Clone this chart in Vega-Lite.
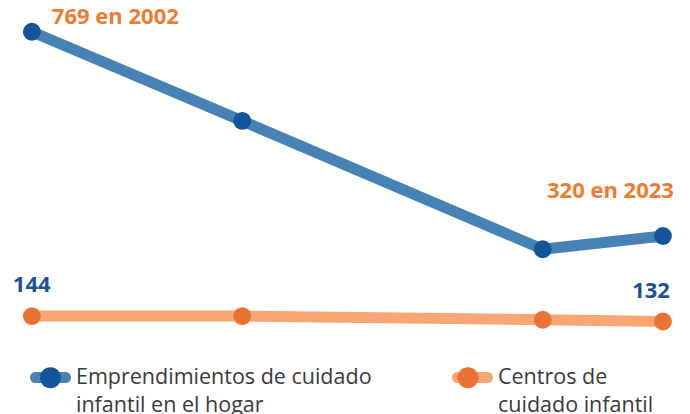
{
  "$schema": "https://vega.github.io/schema/vega-lite/v6.json",
  "width": 690,
  "height": 414,
  "padding": 0,
  "autosize": "none",
  "config": {"view": {"stroke": null}, "font": "Open Sans"},
  "data": {
    "values": [
      {"year": 2002, "value": 769, "serie": "Emprendimientos de cuidado infantil en el hogar"},
      {"year": 2009, "value": 573, "serie": "Emprendimientos de cuidado infantil en el hogar"},
      {"year": 2019, "value": 291, "serie": "Emprendimientos de cuidado infantil en el hogar"},
      {"year": 2023, "value": 320, "serie": "Emprendimientos de cuidado infantil en el hogar"},
      {"year": 2002, "value": 144, "serie": "Centros de cuidado infantil"},
      {"year": 2009, "value": 144, "serie": "Centros de cuidado infantil"},
      {"year": 2019, "value": 136, "serie": "Centros de cuidado infantil"},
      {"year": 2023, "value": 132, "serie": "Centros de cuidado infantil"}
    ]
  },
  "encoding": {
    "x": {"field": "year", "type": "quantitative", "scale": {"domain": [2000.94, 2023.9], "nice": false, "zero": false}, "axis": null},
    "y": {"field": "value", "type": "quantitative", "scale": {"domain": [-71.2, 838.7], "nice": false, "zero": false}, "axis": null}
  },
  "layer": [
    {
      "mark": {"type": "line", "strokeWidth": 11, "strokeCap": "round", "strokeJoin": "round"},
      "encoding": {
        "color": {
          "field": "serie", "type": "nominal",
          "scale": {"domain": ["Emprendimientos de cuidado infantil en el hogar", "Centros de cuidado infantil"], "range": ["#4682B4", "#F8A674"]},
          "legend": {
            "title": null, "orient": "none", "legendX": 30, "legendY": 357,
            "direction": "horizontal", "columns": 2, "columnPadding": 63, "padding": 0,
            "symbolType": "M-1,0L1,0", "symbolSize": 900, "symbolStrokeWidth": 11,
            "labelOffset": 5, "labelFontSize": 21.5, "labelFont": "Open Sans", "labelColor": "#3a3a3a",
            "labelLimit": 400, "labelBaseline": "middle",
            "labelExpr": "datum.label == 'Centros de cuidado infantil' ? ['Centros de', 'cuidado infantil'] : ['Emprendimientos de cuidado', 'infantil en el hogar']",
            "zindex": 1,
            "encode": {
              "symbols": {"update": {"strokeCap": {"value": "round"}}},
              "labels": {"update": {"lineHeight": {"value": 28}}}
            }
          }
        }
      }
    },
    {
      "mark": {"type": "point", "filled": true, "size": 320, "opacity": 1},
      "encoding": {
        "fill": {
          "field": "serie", "type": "nominal",
          "sort": ["Emprendimientos de cuidado infantil en el hogar", "Centros de cuidado infantil"],
          "scale": {"range": ["#13559A", "#EA7235"]},
          "legend": {
            "title": null, "orient": "none", "legendX": 30, "legendY": 357,
            "direction": "horizontal", "columns": 2, "columnPadding": 75.5, "padding": 0,
            "symbolType": "M-1,0L1,0M-0.7,0A0.7,0.7,0,1,1,0.7,0A0.7,0.7,0,1,1,-0.7,0Z", "symbolSize": 900, "symbolStrokeWidth": 11,
            "labelOffset": 5, "labelFontSize": 21.5, "labelFont": "Open Sans", "labelColor": "#3a3a3a",
            "labelLimit": 400, "labelBaseline": "middle", "labelOpacity": 0,
            "labelExpr": "datum.label == 'Centros de cuidado infantil' ? ['Centros de', 'cuidado infantil'] : ['Emprendimientos de cuidado', 'infantil en el hogar']",
            "zindex": 2,
            "encode": {
              "symbols": {"update": {"strokeOpacity": {"value": 0}, "fillOpacity": {"value": 1}, "strokeCap": {"value": "round"}}},
              "labels": {"update": {"lineHeight": {"value": 28}}}
            }
          }
        }
      }
    },
    {
      "transform": [{"filter": "datum.year == 2002 && datum.value == 769"}],
      "mark": {"type": "text", "text": "769 en 2002", "align": "left", "baseline": "alphabetic", "dx": 20, "dy": -8, "fontWeight": 700, "fontSize": 22, "color": "#EE7B30"}
    },
    {
      "transform": [{"filter": "datum.year == 2023 && datum.value == 320"}],
      "mark": {"type": "text", "text": "320 en 2023", "align": "right", "baseline": "alphabetic", "dx": 11, "dy": -38, "fontWeight": 700, "fontSize": 22, "color": "#EE7B30"}
    },
    {
      "transform": [{"filter": "datum.year == 2002 && datum.value == 144"}],
      "mark": {"type": "text", "align": "left", "baseline": "alphabetic", "dx": -19, "dy": -24, "fontWeight": 700, "fontSize": 22, "color": "#1B5394"},
      "encoding": {"text": {"field": "value", "type": "quantitative"}}
    },
    {
      "transform": [{"filter": "datum.year == 2023 && datum.value == 132"}],
      "mark": {"type": "text", "align": "right", "baseline": "alphabetic", "dx": 7, "dy": -24, "fontWeight": 700, "fontSize": 22, "color": "#1B5394"},
      "encoding": {"text": {"field": "value", "type": "quantitative"}}
    }
  ]
}
